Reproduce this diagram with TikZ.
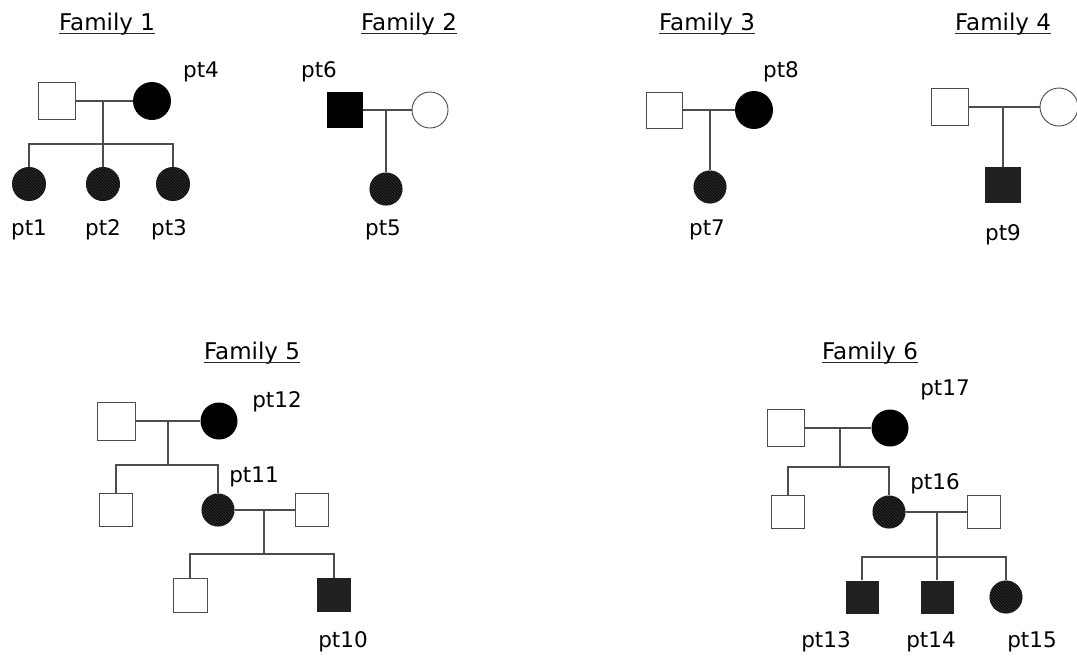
\documentclass[tikz,border=0pt]{standalone}
\usepackage{fontspec}
\setmainfont{DejaVu Sans}
\usetikzlibrary{patterns}
\begin{document}
\begin{tikzpicture}[x=1pt,y=-1pt,
  lbl/.style={font=\fontsize{21.5}{25}\selectfont, inner sep=0pt},
  ttl/.style={font=\fontsize{23}{27}\selectfont, inner sep=0pt, anchor=base},
  uline/.style={line width=1.4pt, black!85},
  rel/.style={line width=1.9pt, black!70},
  sq/.style={draw=black!70, line width=0.9pt, rectangle, inner sep=0pt, minimum width=#1, minimum height=#1, fill=white},
  sqdark/.style={rectangle, inner sep=0pt, minimum width=#1, minimum height=#1, fill=black!87},
  sqblack/.style={rectangle, inner sep=0pt, minimum width=#1, minimum height=#1, fill=black},
  ci/.style={draw=black!70, line width=0.9pt, circle, inner sep=0pt, minimum size=#1, fill=white},
  ciblack/.style={circle, inner sep=0pt, minimum size=#1, fill=black},
  cihatch/.style={circle, inner sep=0pt, minimum size=#1, fill=black!95,
     postaction={pattern=north west lines, pattern color=black!78}},
]
\useasboundingbox (0,0) rectangle (1077,659);

% ---------- titles ----------
\foreach \n/\x/\y/\t in {t1/107/30/Family 1, t2/409/30/Family 2, t3/707/30/Family 3, t4/1003/30/Family 4, t5/252/359/Family 5, t6/870/359/Family 6}{
  \node[ttl] (\n) at (\x,\y) {\t};
  \draw[uline] ([yshift=-3.5pt]\n.base west) -- ([yshift=-3.5pt]\n.base east);
}

% ---------- Family 1 ----------
\node[sq=37] (f1a) at (57,101) {};
\node[ciblack=38] (f1b) at (152,101) {};
\coordinate (d1) at (103,101);
\coordinate (s1) at (103,144);
\node[cihatch=34] (f1c) at (29,184) {};
\node[cihatch=34] (f1d) at (103,184) {};
\node[cihatch=34] (f1e) at (173,184) {};
\draw[rel] (f1a.east) -- (f1b.west);
\draw[rel] (d1) -- (s1);
\draw[rel] (f1c.north) |- (s1) -| (f1e.north);
\draw[rel] (s1) -- (f1d.north);
\node[lbl] (p1) at (29,230) {pt1};
\node[lbl] (p2) at (103,230) {pt2};
\node[lbl] (p3) at (169,230) {pt3};
\node[lbl] (p4) at (201,72) {pt4};

% ---------- Family 2 ----------
\node[sqblack=36] (f2a) at (345,110) {};
\node[ci=36] (f2b) at (430,110) {};
\coordinate (d2) at (386,110);
\node[cihatch=33] (f2c) at (386,189) {};
\draw[rel] (f2a.east) -- (f2b.west);
\draw[rel] (d2) -- (f2c.north);
\node[lbl] (p6) at (319,72) {pt6};
\node[lbl] (p5) at (383,230) {pt5};

% ---------- Family 3 ----------
\node[sq=36] (f3a) at (664,110) {};
\node[ciblack=38] (f3b) at (754,110) {};
\coordinate (d3) at (710,110);
\node[cihatch=33] (f3c) at (710,187) {};
\draw[rel] (f3a.east) -- (f3b.west);
\draw[rel] (d3) -- (f3c.north);
\node[lbl] (p7) at (707,230) {pt7};
\node[lbl] (p8) at (781,72) {pt8};

% ---------- Family 4 ----------
\node[sq=37] (f4a) at (950,107) {};
\node[ci=38] (f4b) at (1059,107) {};
\coordinate (d4) at (1003,107);
\node[sqdark=36] (f4c) at (1003,185) {};
\draw[rel] (f4a.east) -- (f4b.west);
\draw[rel] (d4) -- (f4c.north);
\node[lbl] (p9) at (1003,235) {pt9};

% ---------- Family 5 ----------
\node[sq=38] (f5a) at (116,421) {};
\node[ciblack=37] (f5b) at (219,421) {};
\coordinate (d5) at (168,421);
\coordinate (s5) at (168,465);
\node[sq=33] (f5c) at (116,510) {};
\node[cihatch=33] (f5d) at (218,510) {};
\node[sq=33] (f5e) at (312,510) {};
\coordinate (d5b) at (264,510);
\coordinate (s5b) at (264,554);
\node[sq=34] (f5f) at (190,595) {};
\node[sqdark=34] (f5g) at (334,595) {};
\draw[rel] (f5a.east) -- (f5b.west);
\draw[rel] (d5) -- (s5);
\draw[rel] (f5c.north) |- (s5) -| (f5d.north);
\draw[rel] (f5d.east) -- (f5e.west);
\draw[rel] (d5b) -- (s5b);
\draw[rel] (f5f.north) |- (s5b) -| (f5g.north);
\node[lbl] (p12) at (277,402) {pt12};
\node[lbl] (p11) at (254,477) {pt11};
\node[lbl] (p10) at (343,642) {pt10};

% ---------- Family 6 ----------
\node[sq=37] (f6a) at (786,428) {};
\node[ciblack=37] (f6b) at (890,428) {};
\coordinate (d6) at (840,428);
\coordinate (s6) at (840,467);
\node[sq=33] (f6c) at (788,512) {};
\node[cihatch=33] (f6d) at (889,512) {};
\node[sq=33] (f6e) at (984,512) {};
\coordinate (d6b) at (937,512);
\coordinate (s6b) at (937,557);
\node[sqdark=33] (f6f) at (862,597) {};
\node[sqdark=33] (f6g) at (937,597) {};
\node[cihatch=33] (f6h) at (1006,597) {};
\draw[rel] (f6a.east) -- (f6b.west);
\draw[rel] (d6) -- (s6);
\draw[rel] (f6c.north) |- (s6) -| (f6d.north);
\draw[rel] (f6d.east) -- (f6e.west);
\draw[rel] (d6b) -- (s6b);
\draw[rel] (f6f.north) |- (s6b) -| (f6h.north);
\draw[rel] (s6b) -- (f6g.north);
\node[lbl] (p17) at (945,390) {pt17};
\node[lbl] (p16) at (935,484) {pt16};
\node[lbl] (p13) at (826,642) {pt13};
\node[lbl] (p14) at (931,642) {pt14};
\node[lbl] (p15) at (1032,642) {pt15};
\end{tikzpicture}
\end{document}
